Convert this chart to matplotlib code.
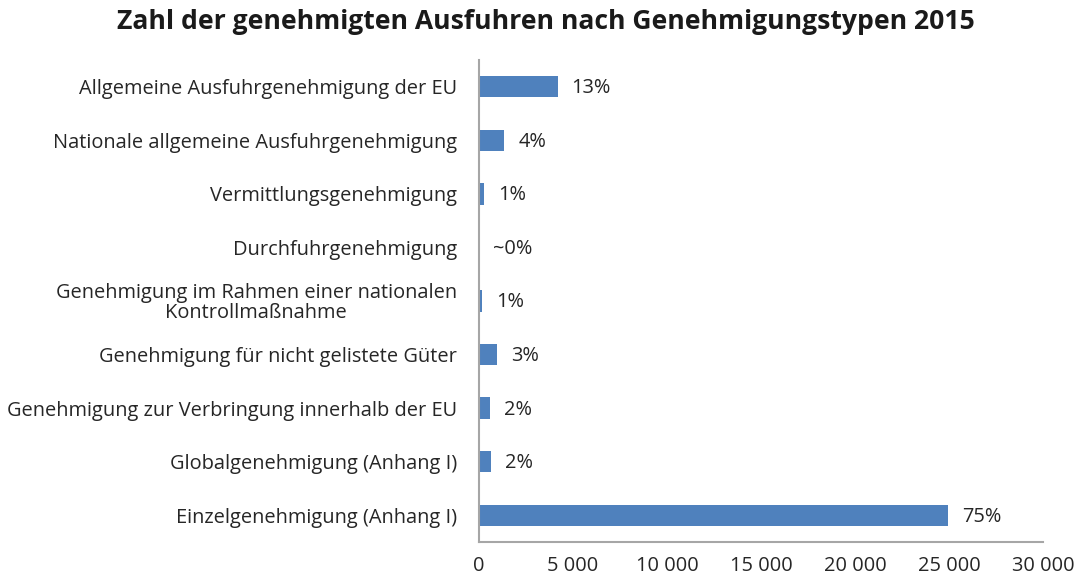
import numpy as np
import matplotlib
matplotlib.use("Agg")
import matplotlib.pyplot as plt
from matplotlib.ticker import FuncFormatter

# Genehmigte Ausfuhren nach Genehmigungstyp 2015

categories = [
    "Einzelgenehmigung (Anhang I)",
    "Globalgenehmigung (Anhang I)",
    "Genehmigung zur Verbringung innerhalb der EU",
    "Genehmigung für nicht gelistete Güter",
    "Genehmigung im Rahmen einer nationalen\nKontrollmaßnahme",
    "Durchfuhrgenehmigung",
    "Vermittlungsgenehmigung",
    "Nationale allgemeine Ausfuhrgenehmigung",
    "Allgemeine Ausfuhrgenehmigung der EU",
]
counts = [24950, 640, 600, 940, 175, 10, 250, 1340, 4180]
pct_labels = ["75%", "2%", "2%", "3%", "1%", "~0%", "1%", "4%", "13%"]

plt.rcParams["font.family"] = ["Open Sans", "DejaVu Sans"]
text_col = "#262626"
axis_col = "#a6a6a6"
fs = 14.4

fig = plt.figure(figsize=(10.79, 5.76), dpi=100)
ax = fig.add_axes([0.444, 0.059, 0.5226, 0.8369])

y = np.arange(len(categories))
ax.barh(y, counts, height=0.4, color="#4f81bd")

for yi, v, lab in zip(y, counts, pct_labels):
    ax.annotate(lab, xy=(v, yi), xytext=(10, -1), textcoords="offset points",
                va="center", ha="left", fontsize=fs, color=text_col)

ax.set_xlim(0, 30000)
ax.set_ylim(-0.5, len(categories) - 0.5)
ax.set_xticks(np.arange(0, 30001, 5000))
ax.xaxis.set_major_formatter(FuncFormatter(lambda v, p: f"{int(v):,}".replace(",", " ")))
ax.set_yticks(y)
ax.set_yticklabels(categories, ha="right", ma="center", linespacing=1.0)

ax.tick_params(axis="x", length=0, pad=10, labelsize=fs, labelcolor=text_col)
ax.tick_params(axis="y", length=0, pad=16, labelsize=fs, labelcolor=text_col)

for s in ["top", "right"]:
    ax.spines[s].set_visible(False)
for s in ["left", "bottom"]:
    ax.spines[s].set_color(axis_col)
    ax.spines[s].set_linewidth(1.5)

fig.text(0.506, 0.962, "Zahl der genehmigten Ausfuhren nach Genehmigungstypen 2015",
         ha="center", va="center", fontsize=19.1, fontweight="bold", color="#1a1a1a")

fig.savefig("out.png", dpi=100)
